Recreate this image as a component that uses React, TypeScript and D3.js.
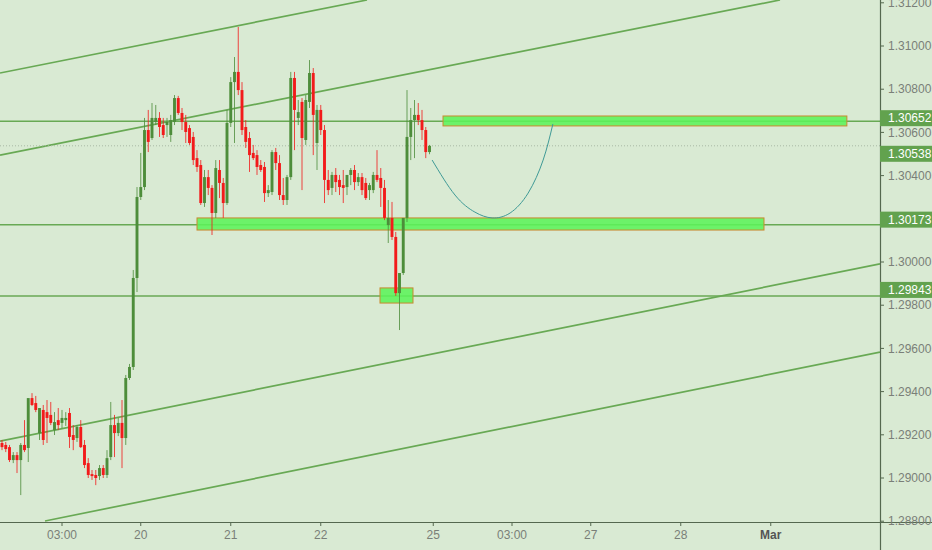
import React from 'react';
import * as d3 from 'd3';

// ---- Data (hourly candles) ----
const opens = [
  1.29162, 1.29153, 1.29143, 1.29083, 1.29106, 1.29083, 1.29153, 1.29139, 1.29370, 1.29347,
  1.29208, 1.29315, 1.29305, 1.29292, 1.29222, 1.29268, 1.29255, 1.29268, 1.29301, 1.29199,
  1.29185, 1.29236, 1.29153, 1.29069, 1.29018, 1.29014, 1.29009, 1.29046, 1.29014, 1.29097,
  1.29245, 1.29208, 1.29255, 1.29185, 1.29463, 1.29514, 1.29926, 1.30301, 1.30347, 1.30611,
  1.30574, 1.30648, 1.30667, 1.30634, 1.30634, 1.30588, 1.30648, 1.30759, 1.30690, 1.30648,
  1.30620, 1.30579, 1.30481, 1.30449, 1.30273, 1.30393, 1.30343, 1.30227, 1.30426, 1.30366,
  1.30273, 1.30644, 1.30833, 1.30880, 1.30796, 1.30625, 1.30574, 1.30505, 1.30495, 1.30449,
  1.30440, 1.30319, 1.30324, 1.30509, 1.30458, 1.30310, 1.30287, 1.30393, 1.30852, 1.30667,
  1.30741, 1.30565, 1.30741, 1.30875, 1.30551, 1.30704, 1.30611, 1.30380, 1.30343, 1.30403,
  1.30380, 1.30356, 1.30347, 1.30403, 1.30426, 1.30370, 1.30393, 1.30366, 1.30333, 1.30333,
  1.30403, 1.30389, 1.30343, 1.30171, 1.30204, 1.30116, 1.29856, 1.29949, 1.30204, 1.30579,
  1.30657, 1.30681, 1.30657, 1.30611, 1.30509,
];
const highs = [
  1.29176, 1.29167, 1.29153, 1.29120, 1.29120, 1.29162, 1.29268, 1.29176, 1.29393, 1.29380,
  1.29324, 1.29338, 1.29361, 1.29352, 1.29305, 1.29324, 1.29315, 1.29305, 1.29324, 1.29245,
  1.29245, 1.29268, 1.29176, 1.29092, 1.29037, 1.29037, 1.29060, 1.29060, 1.29129, 1.29352,
  1.29292, 1.29278, 1.29361, 1.29477, 1.29528, 1.29963, 1.30347, 1.30505, 1.30667, 1.30704,
  1.30736, 1.30727, 1.30694, 1.30667, 1.30667, 1.30681, 1.30773, 1.30769, 1.30713, 1.30681,
  1.30634, 1.30602, 1.30518, 1.30472, 1.30426, 1.30426, 1.30356, 1.30472, 1.30472, 1.30389,
  1.30704, 1.30856, 1.30949, 1.31088, 1.30833, 1.30657, 1.30602, 1.30542, 1.30518, 1.30472,
  1.30463, 1.30356, 1.30518, 1.30528, 1.30495, 1.30389, 1.30403, 1.30880, 1.30880, 1.30750,
  1.30759, 1.30773, 1.30935, 1.30898, 1.30727, 1.30727, 1.30634, 1.30426, 1.30417, 1.30435,
  1.30403, 1.30426, 1.30403, 1.30435, 1.30449, 1.30412, 1.30412, 1.30389, 1.30366, 1.30417,
  1.30518, 1.30435, 1.30380, 1.30287, 1.30278, 1.30139, 1.29926, 1.30194, 1.30796, 1.30713,
  1.30750, 1.30736, 1.30704, 1.30625, 1.30542,
];
const lows = [
  1.29129, 1.29120, 1.29074, 1.29069, 1.29023, 1.28921, 1.29120, 1.29074, 1.29333, 1.29305,
  1.29176, 1.29153, 1.29162, 1.29245, 1.29199, 1.29222, 1.29231, 1.29241, 1.29139, 1.29129,
  1.29167, 1.29139, 1.29046, 1.29000, 1.28991, 1.28967, 1.28991, 1.29000, 1.29000, 1.29083,
  1.29097, 1.29194, 1.29046, 1.29153, 1.29454, 1.29500, 1.29861, 1.30287, 1.30333, 1.30509,
  1.30565, 1.30634, 1.30579, 1.30574, 1.30579, 1.30556, 1.30634, 1.30681, 1.30611, 1.30551,
  1.30542, 1.30449, 1.30417, 1.30264, 1.30255, 1.30310, 1.30125, 1.30204, 1.30296, 1.30204,
  1.30264, 1.30625, 1.30551, 1.30773, 1.30588, 1.30528, 1.30417, 1.30472, 1.30403, 1.30417,
  1.30278, 1.30301, 1.30310, 1.30426, 1.30287, 1.30264, 1.30264, 1.30380, 1.30518, 1.30634,
  1.30333, 1.30542, 1.30713, 1.30495, 1.30426, 1.30588, 1.30273, 1.30310, 1.30310, 1.30324,
  1.30310, 1.30273, 1.30310, 1.30356, 1.30333, 1.30352, 1.30310, 1.30287, 1.30287, 1.30319,
  1.30370, 1.30255, 1.30194, 1.30088, 1.30102, 1.29843, 1.29685, 1.29940, 1.30185, 1.30472,
  1.30481, 1.30634, 1.30565, 1.30481, 1.30499,
];
const closes = [
  1.29143, 1.29134, 1.29083, 1.29106, 1.29083, 1.29153, 1.29129, 1.29370, 1.29338, 1.29315,
  1.29324, 1.29176, 1.29278, 1.29255, 1.29259, 1.29245, 1.29278, 1.29278, 1.29190, 1.29176,
  1.29236, 1.29143, 1.29060, 1.29014, 1.29009, 1.29000, 1.29046, 1.29014, 1.29092, 1.29245,
  1.29208, 1.29255, 1.29185, 1.29463, 1.29514, 1.29926, 1.30301, 1.30347, 1.30611, 1.30556,
  1.30667, 1.30667, 1.30625, 1.30588, 1.30648, 1.30657, 1.30759, 1.30690, 1.30648, 1.30602,
  1.30551, 1.30472, 1.30440, 1.30273, 1.30393, 1.30343, 1.30227, 1.30435, 1.30366, 1.30273,
  1.30644, 1.30833, 1.30880, 1.30796, 1.30611, 1.30556, 1.30495, 1.30481, 1.30440, 1.30426,
  1.30319, 1.30333, 1.30509, 1.30458, 1.30310, 1.30287, 1.30393, 1.30852, 1.30704, 1.30694,
  1.30574, 1.30750, 1.30875, 1.30681, 1.30704, 1.30611, 1.30380, 1.30333, 1.30403, 1.30370,
  1.30347, 1.30343, 1.30403, 1.30426, 1.30370, 1.30393, 1.30333, 1.30296, 1.30356, 1.30403,
  1.30380, 1.30343, 1.30204, 1.30204, 1.30116, 1.29856, 1.29949, 1.30204, 1.30579, 1.30657,
  1.30681, 1.30657, 1.30611, 1.30509, 1.30538,
];

const yTickValues = [1.288, 1.29, 1.292, 1.294, 1.296, 1.298, 1.3, 1.302, 1.304, 1.306, 1.308, 1.31, 1.312];
const xTickIndex = [16, 37, 61, 85, 115, 136, 157, 181, 205];
const xTickLabels = ['03:00', '20', '21', '22', '25', '03:00', '27', '28', 'Mar'];

// horizontal levels and their axis badge offsets
const levelPrices = [1.30652, 1.30173, 1.29843];
const levelBadgeShift = [-3, -5, -6];
const lastPrice = 1.30538;
const lastBadgeShift = 8;

// channel trend lines: [index0, price0, index1, price1]
const trendLines = [
  [-0.53, 1.30875, 97.33, 1.31213],
  [-0.53, 1.30495, 207.47, 1.31213],
  [-0.53, 1.29171, 234.13, 1.29991],
  [11.47, 1.28801, 234.13, 1.29583],
];

// zones: [index0, index1, topPrice, bottomPrice]
const zones = [
  [117.6, 225.3, 1.30676, 1.3063],
  [52.0, 203.2, 1.30204, 1.30148],
  [100.8, 109.6, 1.2988, 1.2981],
];

// projected path drawing
const pathIdx = [114.7, 120.8, 126.1, 130.7, 135.5, 140.3, 144.3, 146.9];
const pathPrice = [1.30472, 1.3031, 1.30231, 1.30204, 1.30227, 1.30319, 1.30472, 1.30639];

const W = 932;
const H = 550;
const PLOT_R = 880;
const PLOT_B = 522;

const FONT = "'Liberation Sans Narrow', 'Arial Narrow', 'Liberation Sans', Arial, sans-serif";

export default function App() {
  const x = d3.scaleLinear().domain([0, 234.133]).range([2, PLOT_R]);
  const y = d3.scaleLinear().domain([1.287963, 1.31213]).range([PLOT_B, 0]);

  const green = '#4d8d3a';
  const red = '#f21b1b';
  const lineGreen = '#68a954';
  const bw = 2.9;

  const curve = d3
    .line<number>()
    .x((_, i) => x(pathIdx[i]))
    .y((_, i) => y(pathPrice[i]))
    .curve(d3.curveNatural)(pathIdx) as string;

  return (
    <svg
      width={W}
      height={H}
      style={{ position: 'absolute', left: 0, top: 0, background: '#d9ead3' }}
      fontFamily={FONT}
    >
      <defs>
        <clipPath id="plot">
          <rect x={0} y={0} width={PLOT_R} height={PLOT_B} />
        </clipPath>
      </defs>
      <rect x={0} y={0} width={W} height={H} fill="#d9ead3" />

      <g clipPath="url(#plot)">
        {trendLines.map((t, i) => (
          <line
            key={'t' + i}
            x1={x(t[0])}
            y1={y(t[1])}
            x2={x(t[2])}
            y2={y(t[3])}
            stroke={lineGreen}
            strokeWidth={1.7}
          />
        ))}
        {levelPrices.map((p, i) => (
          <line key={'h' + i} x1={0} x2={PLOT_R} y1={y(p)} y2={y(p)} stroke={lineGreen} strokeWidth={1.5} />
        ))}
        <line
          x1={0}
          x2={PLOT_R}
          y1={y(lastPrice)}
          y2={y(lastPrice)}
          stroke="#a9b8a4"
          strokeWidth={1}
          strokeDasharray="1 2"
        />
        {zones.map((z, i) => (
          <rect
            key={'z' + i}
            x={x(z[0])}
            y={y(z[2])}
            width={x(z[1]) - x(z[0])}
            height={y(z[3]) - y(z[2])}
            fill="#5cf25a"
            fillOpacity={0.88}
            stroke="#c9892f"
            strokeWidth={1}
          />
        ))}
        {opens.map((o, i) => {
          const c = closes[i];
          const up = c >= o;
          const col = up ? green : red;
          const cx = x(i);
          const top = y(Math.max(o, c));
          const bot = y(Math.min(o, c));
          return (
            <g key={'c' + i}>
              <line x1={cx} x2={cx} y1={y(highs[i])} y2={y(lows[i])} stroke={col} strokeWidth={1} opacity={0.8} />
              <rect x={cx - bw / 2} y={top} width={bw} height={Math.max(1, bot - top)} fill={col} />
            </g>
          );
        })}
        <path d={curve} fill="none" stroke="#3f9a96" strokeWidth={1} />
      </g>

      <line x1={0} x2={W} y1={PLOT_B + 0.5} y2={PLOT_B + 0.5} stroke="#55684f" strokeWidth={1.2} />
      <line x1={PLOT_R + 0.5} x2={PLOT_R + 0.5} y1={0} y2={H} stroke="#55684f" strokeWidth={1.2} />

      {yTickValues.map((v, i) => (
        <g key={'yt' + i}>
          <line x1={PLOT_R} x2={PLOT_R + 4} y1={y(v)} y2={y(v)} stroke="#55684f" />
          <text x={PLOT_R + 8} y={y(v)} dy="0.35em" fontSize={12} fill="#7a7f78">
            {v.toFixed(5)}
          </text>
        </g>
      ))}

      {xTickIndex.map((ix, i) => (
        <g key={'xt' + i}>
          <line x1={x(ix)} x2={x(ix)} y1={PLOT_B} y2={PLOT_B + 4} stroke="#55684f" />
          <text
            x={x(ix)}
            y={PLOT_B + 17}
            textAnchor="middle"
            fontSize={12}
            fill={xTickLabels[i] === 'Mar' ? '#555' : '#7a7f78'}
            fontWeight={xTickLabels[i] === 'Mar' ? 'bold' : 'normal'}
          >
            {xTickLabels[i]}
          </text>
        </g>
      ))}

      {levelPrices.map((p, i) => (
        <g key={'b' + i}>
          <rect x={PLOT_R} y={y(p) + levelBadgeShift[i] - 8} width={W - PLOT_R} height={16} fill="#62a24e" />
          <text x={PLOT_R + 8} y={y(p) + levelBadgeShift[i]} dy="0.35em" fontSize={12} fill="#ffffff">
            {p.toFixed(5)}
          </text>
        </g>
      ))}
      <g>
        <rect x={PLOT_R} y={y(lastPrice) + lastBadgeShift - 8} width={W - PLOT_R} height={16} fill="#62a24e" />
        <text x={PLOT_R + 8} y={y(lastPrice) + lastBadgeShift} dy="0.35em" fontSize={12} fill="#ffffff">
          {lastPrice.toFixed(5)}
        </text>
      </g>
    </svg>
  );
}
